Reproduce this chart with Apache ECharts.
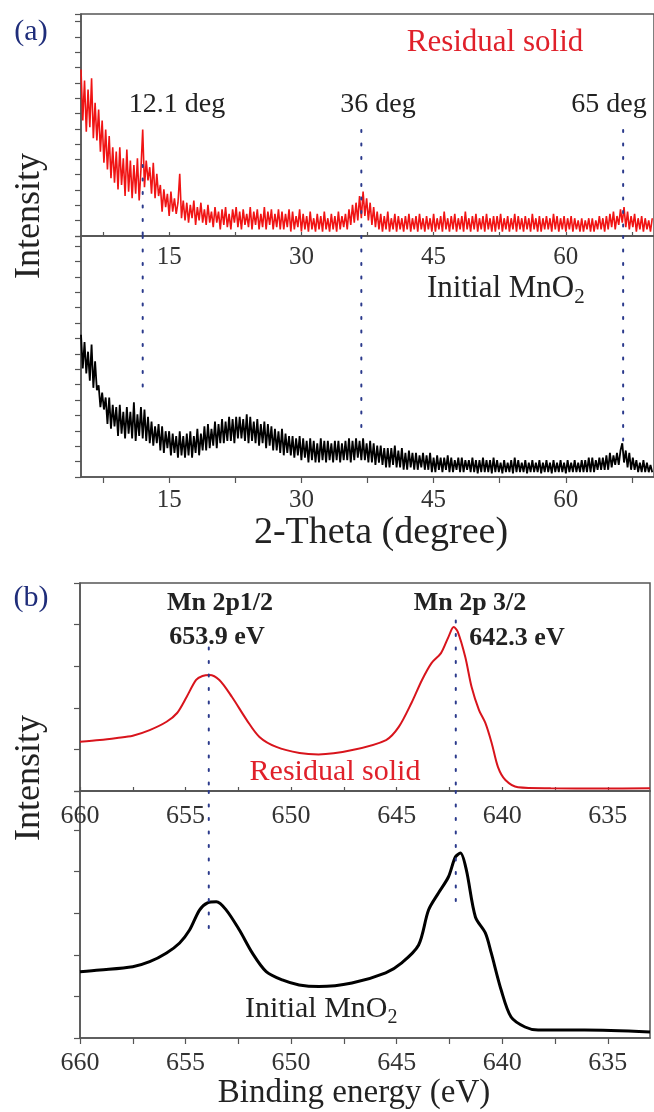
<!DOCTYPE html>
<html><head><meta charset="utf-8">
<script src="https://cdn.jsdelivr.net/npm/echarts@6/dist/echarts.min.js"></script>
<style>html,body{margin:0;padding:0;background:#fff}#c{width:654px;height:1112px}</style>
</head><body><div id="c"></div>
<script>
// ---------- DATA ----------
// XRD: 2-theta sampled from xrdStart in steps of xrdStep (degrees), 5 points per degree
const xrdStart = 5, xrdStep = 0.2;
const xrdResidual = [
75,52,70,47,66, 49,71,44,60,43, 57,38,52,33,48, 30,45,26,40,24, 38,21,40,23,35,
18,39,20,34,17, 32,19,35,16,30, 48,22,34,25,31, 19,33,17,28,18, 23,11,21,13,19,
9,20,11,17,10, 15,28,8,16,7, 15,6,14,8,16, 5,13,7,15,6, 12,5,14,6,11,
4,13,6,11,3, 12,5,13,4,10, 3,12,6,13,4, 11,3,12,5,10, 4,13,3,11,5,
12,3,10,4,13, 3,11,5,12,3, 10,4,12,3,11, 3,10,4,12,2, 11,3,9,4,12,
2,10,3,9,2, 11,3,8,2,10, 3,9,2,11,3, 8,2,10,3,9, 2,11,3,9,4,
10,3,12,5,14, 6,15,7,18,8, 20,9,17,7,15, 5,13,4,11,3, 10,2,9,3,11,
2,8,3,10,2, 9,3,8,2,9, 3,10,2,8,3, 9,2,10,3,8, 2,9,3,8,2,
10,2,8,3,9, 2,11,3,8,2, 9,3,10,2,8, 3,9,2,11,3, 8,2,9,3,10,
2,8,3,9,2, 10,3,8,2,9, 2,9,3,10,2, 8,3,9,2,8, 3,10,2,9,3,
8,2,9,3,8, 2,10,3,8,2, 9,2,8,3,9, 3,8,2,10,3, 9,2,8,3,9,
2,8,3,9,2, 8,3,7,2,8, 2,7,3,8,2, 8,2,7,3,9, 3,8,2,9,3,
10,4,11,3,9, 5,12,6,13,4, 11,3,9,4,10, 2,8,3,9,2, 8,3,7,2,8
];
const xrdInitial = [
59,45,56,43,52, 40,55,37,48,36, 38,29,35,28,33, 22,33,20,30,21, 29,17,30,18,27,
16,29,18,27,16, 31,15,26,17,29, 16,28,15,25,14, 23,13,21,14,22, 11,21,10,19,12,
19,9,18,10,17, 8,19,9,17,8, 18,9,19,8,17, 10,20,9,18,11, 21,11,22,12,20,
13,23,12,22,14, 24,14,23,15,25, 15,24,14,25,16, 25,16,24,15,26, 14,25,15,23,14,
24,13,22,14,23, 12,22,13,21,11, 20,11,19,10,20, 9,18,10,17,9, 17,8,16,9,17,
7,16,8,15,6, 16,7,15,6,14, 6,16,7,15,6, 15,7,14,6,15, 7,15,6,14,7,
15,7,16,6,15, 7,16,8,15,7, 16,7,14,6,15, 6,14,5,13,6, 13,5,12,4,12,
4,12,5,13,4, 11,4,12,3,10, 3,11,4,10,3, 10,3,9,4,10, 3,9,3,10,2,
8,2,9,3,8, 2,8,3,9,2, 8,2,7,3,8, 2,8,2,7,3, 7,2,8,2,7,
1.5,7,2,8,2, 7,2,7,1.5,8, 2,7,2,6,1.5, 7,2,6,2,7, 1.5,8,2,7,2,
6,2,7,1.5,6, 2,7,2,6,2, 7,1.5,6,2,7, 2,6,1.5,7,2, 6,2,7,2,6,
1.5,7,2,6,2, 7,2,6,2,7, 2,7,2,8,2, 8,2,7,3,8, 3,8,3,9,3,
10,4,9,5,10, 5,11,14,6,11, 4,10,3,8,3, 7,2,6,2,7, 2,6,2,5,2
];
const xrdTickLabels = [15, 30, 45, 60];
const xrdTickValues = [7.5, 15, 22.5, 30, 37.5, 45, 52.5, 60, 67.5];
const xrdPeakPos = [12.0, 36.8, 66.5];
const xrdPeakNames = ['12.1 deg', '36 deg', '65 deg'];

// XPS Mn 2p
const xpsResE = [660,659.06,658.25,657.5,656.7,655.9,655.4,654.95,654.5,654.2,653.87,653.4,652.8,652.1,651.5,650.7,649.6,648.7,647.1,645.5,644.9,644.3,643.8,643.35,642.9,642.55,642.3,642.1,641.75,641.45,641.1,640.8,640.5,640.2,639.85,639.25,637.7,635.3,633];
const xpsResI = [23.7,24.5,25.5,26.6,29.3,33.3,37.5,45.2,53.4,55.3,55.8,53.4,45.2,34.1,26,21.2,18.3,17.6,19.7,24.5,30.8,42.3,53.4,61.5,66.3,74,78.8,76.4,64.4,50,38.9,32.7,23.1,11.5,5.3,1.8,1.3,1.2,1.3];
const xpsIniE = [660,659.06,657.5,656.7,655.9,655.28,654.81,654.34,653.96,653.54,653.07,652.45,651.84,651.18,650.42,649.62,648.68,647.12,645.52,644.76,643.96,643.49,643.02,642.55,642.22,641.98,641.7,641.27,640.8,640.52,640.05,639.58,638.92,638.3,636.1,633];
const xpsIniI = [31.9,32.7,34.3,36.7,40.9,45.7,51.9,61.5,65,65.5,61.5,51.9,40.9,31.9,27.9,25.5,24.7,26.4,31.3,36.1,44.7,61.5,69.7,77.4,87,88.9,80.8,58.2,50.5,40.9,23.1,10.1,5.3,3.8,3.8,2.9];
const xpsTickLabels = [660, 655, 650, 645, 640, 635];
const xpsTickValues = [660, 657.5, 655, 652.5, 650, 647.5, 645, 642.5, 640, 637.5, 635];
const xpsPeakPos = [653.9, 642.2];

// ---------- BUILD ----------
const serif = '"Liberation Serif","DejaVu Serif",serif';
const axisCol = '#555';
const dotCol = '#2b3a8c';
const redCol = '#f01414';

function pairs(xs, ys) { return xs.map((x, i) => [x, ys[i]]); }
const xrdX = xrdResidual.map((_, i) => xrdStart + i * xrdStep);

function xAxisA(gi, inside) {
  return {
    type: 'value', gridIndex: gi, min: 5, max: 70,
    axisLine: { show: true, onZero: false, lineStyle: { color: axisCol, width: 1.5 } },
    axisTick: { show: true, inside: inside, length: inside ? 4 : 6, customValues: xrdTickValues,
      lineStyle: { color: axisCol, width: 1.2 } },
    axisLabel: { show: true, margin: inside ? 9 : 11, color: '#333', fontFamily: serif, fontSize: 25,
      customValues: xrdTickLabels },
    splitLine: { show: false }
  };
}
function xAxisB(gi, inside) {
  return {
    type: 'value', gridIndex: gi, min: 633, max: 660, inverse: true,
    axisLine: { show: true, onZero: false, lineStyle: { color: axisCol, width: 1.5 } },
    axisTick: { show: true, inside: inside, length: inside ? 4 : 6, customValues: xpsTickValues,
      lineStyle: { color: axisCol, width: 1.2 } },
    axisLabel: { show: true, margin: 12, color: '#333', fontFamily: serif, fontSize: 26,
      customValues: xpsTickLabels },
    splitLine: { show: false }
  };
}
function yAxis(gi, max, interval) {
  return {
    type: 'value', gridIndex: gi, min: 0, max: max, interval: interval,
    axisLine: { show: true, onZero: false, lineStyle: { color: axisCol, width: 1.5 } },
    axisTick: { show: true, inside: false, length: 6, lineStyle: { color: axisCol, width: 1.2 } },
    axisLabel: { show: false }, splitLine: { show: false }
  };
}
const gridStyle = { show: true, borderColor: axisCol, borderWidth: 1.5, backgroundColor: 'transparent' };

function dotted(xi, yi, x, y1, y2) {
  return { type: 'line', xAxisIndex: xi, yAxisIndex: yi, data: [[x, y1], [x, y2]], symbol: 'none',
    silent: true, z: 5, lineStyle: { color: dotCol, width: 2, type: [2, 11.5], cap: 'round' } };
}

const series = [
  { type: 'line', xAxisIndex: 0, yAxisIndex: 0, data: pairs(xrdX, xrdResidual), symbol: 'none',
    lineStyle: { color: redCol, width: 1.6 }, silent: true },
  { type: 'line', xAxisIndex: 1, yAxisIndex: 1, data: pairs(xrdX, xrdInitial), symbol: 'none',
    lineStyle: { color: '#000', width: 1.8 }, silent: true },
  { type: 'line', xAxisIndex: 2, yAxisIndex: 2, data: pairs(xpsResE, xpsResI), symbol: 'none', smooth: 0.3,
    lineStyle: { color: '#d8141c', width: 2 }, silent: true },
  { type: 'line', xAxisIndex: 3, yAxisIndex: 3, data: pairs(xpsIniE, xpsIniI), symbol: 'none', smooth: 0.3,
    lineStyle: { color: '#000', width: 3 }, silent: true },
  // peak markers (a)
  dotted(0, 0, xrdPeakPos[0], 32, 0), dotted(1, 1, xrdPeakPos[0], 100, 33),
  dotted(0, 0, xrdPeakPos[1], 47.7, 0), dotted(1, 1, xrdPeakPos[1], 100, 18),
  dotted(0, 0, xrdPeakPos[2], 47.7, 0), dotted(1, 1, xrdPeakPos[2], 100, 15),
  // peak markers (b)
  dotted(2, 2, xpsPeakPos[0], 69, 0), dotted(3, 3, xpsPeakPos[0], 118.75, 51),
  dotted(2, 2, xpsPeakPos[1], 82, 0), dotted(3, 3, xpsPeakPos[1], 118.75, 65)
];

function txt(x, y, text, size, opts) {
  opts = opts || {};
  return { type: 'text', x: x, y: y, rotation: opts.rot || 0, z: 10, silent: true,
    style: { text: text, fill: opts.color || '#222', font: (opts.bold ? 'bold ' : '') + size + 'px ' + serif,
      textAlign: opts.align || 'center', textVerticalAlign: 'middle' } };
}
function mno2(x, y, size) {
  return { type: 'text', x: x, y: y, z: 10, silent: true,
    style: { text: '{n|Initial MnO}{s|2}', textAlign: 'left', textVerticalAlign: 'middle',
      rich: { n: { fontFamily: serif, fontSize: size, fill: '#222', lineHeight: size * 1.2 },
              s: { fontFamily: serif, fontSize: Math.round(size * 0.68), fill: '#222', padding: [size * 0.55, 0, 0, 0] } } } };
}

const graphics = [
  txt(31, 32, '(a)', 30, { color: '#1f2d7a' }),
  txt(30, 216, 'Intensity', 36, { rot: Math.PI / 2 }),
  txt(495, 43, 'Residual solid', 31, { color: '#e0202a' }),
  txt(177, 105, xrdPeakNames[0], 28),
  txt(378, 105, xrdPeakNames[1], 28),
  txt(609, 105, xrdPeakNames[2], 28),
  mno2(427, 289, 31),
  txt(381, 533, '2-Theta (degree)', 38),
  txt(31, 598, '(b)', 30, { color: '#1f2d7a' }),
  txt(30, 778, 'Intensity', 36, { rot: Math.PI / 2 }),
  txt(220, 603, 'Mn 2p1/2', 26, { bold: true }),
  txt(217, 637, '653.9 eV', 26, { bold: true }),
  txt(470, 603, 'Mn 2p 3/2', 26, { bold: true }),
  txt(517, 638, '642.3 eV', 26, { bold: true }),
  txt(335, 772, 'Residual solid', 30, { color: '#e0202a' }),
  mno2(245, 1009, 30),
  txt(354, 1093, 'Binding energy (eV)', 33)
];

const chart = echarts.init(document.getElementById('c'), null, { renderer: 'canvas' });
chart.setOption({
  animation: false,
  backgroundColor: '#fff',
  grid: [
    Object.assign({ left: 81, right: -3, top: 14, height: 222 }, gridStyle),
    Object.assign({ left: 81, right: -3, top: 236, height: 241 }, gridStyle),
    Object.assign({ left: 80, right: 4, top: 583, height: 208 }, gridStyle),
    Object.assign({ left: 80, right: 4, top: 791, height: 247 }, gridStyle)
  ],
  xAxis: [xAxisA(0, true), xAxisA(1, false), xAxisB(2, true), xAxisB(3, false)],
  yAxis: [yAxis(0, 100, 6.9), yAxis(1, 100, 6.39), yAxis(2, 100, 20), yAxis(3, 118.75, 20)],
  series: series,
  graphic: graphics
});
</script></body></html>
